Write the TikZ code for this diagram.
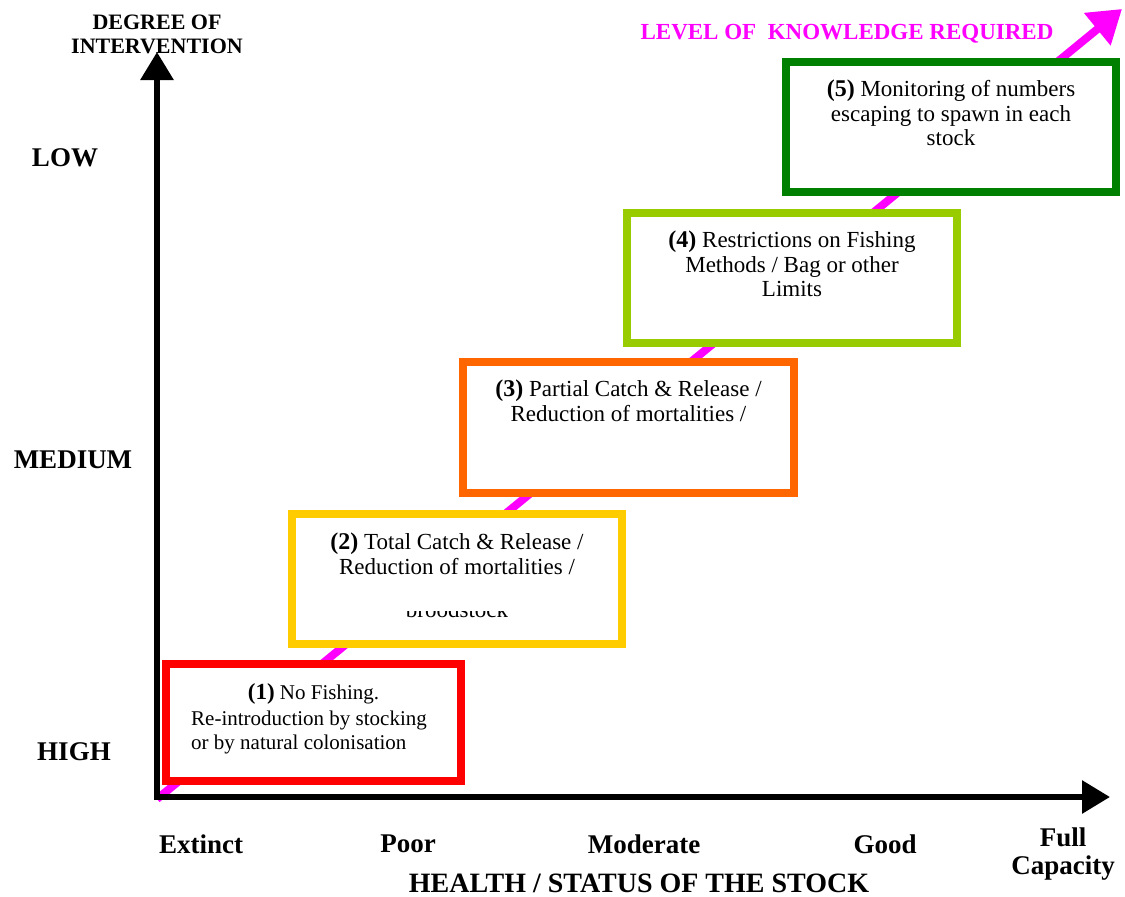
\documentclass[tikz,border=0pt]{standalone}
\usepackage{fontspec}
\setmainfont{Liberation Serif}
\usetikzlibrary{arrows.meta,positioning}
\definecolor{boxred}{RGB}{255,0,0}
\definecolor{boxyellow}{RGB}{255,204,0}
\definecolor{boxorange}{RGB}{255,102,0}
\definecolor{boxlime}{RGB}{153,204,0}
\definecolor{boxgreen}{RGB}{0,128,0}
\definecolor{knowmag}{RGB}{255,0,255}
\begin{document}
\begin{tikzpicture}[x=1pt,y=-1pt,
  axis/.style={line width=6pt,-{Triangle[width=32pt,length=28pt]}},
  know/.style={knowmag,line width=8pt,-{Triangle[width=40pt,length=32pt]}},
  stage/.style={line width=8pt,fill=white,outer sep=0pt,inner sep=0pt},
  stagetxt/.style={align=center,inner sep=0pt,font=\fontsize{23}{24.5}\selectfont},
  lab/.style={font=\bfseries\fontsize{27}{28}\selectfont,inner sep=0pt}]
\useasboundingbox (0,0) rectangle (1125,897);

% knowledge arrow, behind the boxes
\coordinate (o) at (157,799);
\coordinate (k) at (1122,9);
\draw[know] (o) -- (k);
\node[knowmag,font=\bfseries\fontsize{23}{24}\selectfont,inner sep=0pt] (knowlab) at (847,34) {LEVEL OF\ \ KNOWLEDGE REQUIRED};

% axes
\coordinate (ybot) at (157,800);
\coordinate (ytop) at (157,52);
\coordinate (xbeg) at (154,797);
\coordinate (xend) at (1110,797);
\draw[axis] (ybot) -- (ytop);
\draw[axis] (xbeg) -- (xend);

% stages
\node[stage,draw=boxred,minimum width=295pt,minimum height=117pt] (box1) at (313.5,722.5) {};
\node[stage,draw=boxyellow,minimum width=330pt,minimum height=130pt] (box2) at (457,579) {};
\node[stage,draw=boxorange,minimum width=331pt,minimum height=131pt] (box3) at (628.5,427.5) {};
\node[stage,draw=boxlime,minimum width=330pt,minimum height=130pt] (box4) at (792,278) {};
\node[stage,draw=boxgreen,minimum width=330pt,minimum height=130pt] (box5) at (951,127) {};

\node[stagetxt,font=\fontsize{21}{24}\selectfont,below=19pt of box1.north] (txt1) {{\bfseries\fontsize{23}{24}\selectfont(1)} No Fishing.};
\node[stagetxt,align=left,font=\fontsize{21}{24}\selectfont,anchor=north west] (txt1b) at (191,711) {Re-introduction by stocking\\or by natural colonisation};
\node[stagetxt,below=19pt of box2.north] (txt2) {{\bfseries\fontsize{24}{24}\selectfont(2)} Total Catch \& Release /\\Reduction of mortalities /};
\begin{scope}
\clip (300,611) rectangle (614,640);
\node[stagetxt,anchor=base] (txt2b) at (457,617) {broodstock};
\end{scope}
\node[stagetxt,below=18pt of box3.north] (txt3) {{\bfseries\fontsize{24}{24}\selectfont(3)} Partial Catch \& Release /\\Reduction of mortalities /};
\node[stagetxt,below=18pt of box4.north] (txt4) {{\bfseries\fontsize{24}{24}\selectfont(4)} Restrictions on Fishing\\Methods / Bag or other\\Limits};
\node[stagetxt,below=18pt of box5.north] (txt5) {{\bfseries\fontsize{24}{24}\selectfont(5)} Monitoring of numbers\\escaping to spawn in each\\stock};

% labels on the axes
\node[lab,align=center,font=\bfseries\fontsize{22}{24}\selectfont] (ylab) at (157,34) {DEGREE OF\\INTERVENTION};
\node[lab] (low) at (65,158) {LOW};
\node[lab] (medium) at (73,460) {MEDIUM};
\node[lab] (high) at (74,752) {HIGH};
\node[lab] (extinct) at (201,844) {Extinct};
\node[lab] (poor) at (408,844) {Poor};
\node[lab] (moderate) at (644,844) {Moderate};
\node[lab] (good) at (885,844) {Good};
\node[lab,align=center] (full) at (1063,854) {Full\\Capacity};
\node[lab,font=\bfseries\fontsize{28}{28}\selectfont] (xlab) at (639,883) {HEALTH / STATUS OF THE STOCK};

\end{tikzpicture}
\end{document}
